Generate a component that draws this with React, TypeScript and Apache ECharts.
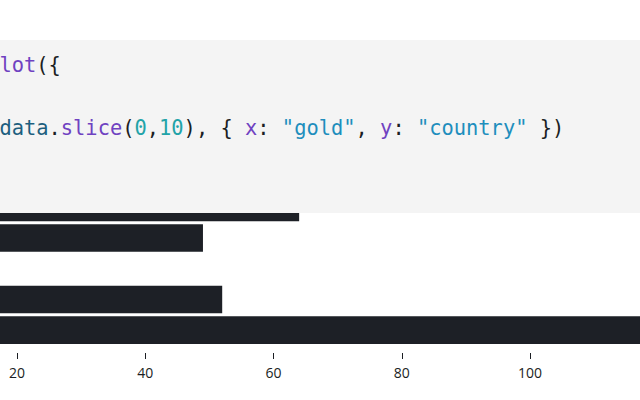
import React, { useEffect, useRef } from "react";
import * as echarts from "echarts";

// Visible bands of the bar chart (axis labels are outside the cropped view)
const countries = ["Row 6", "Row 7", "Row 8", "Row 9", "Row 10"];
const gold = [64, 49, 12, 52, 121];
const xTicks = [20, 40, 60, 80, 100];

// Code snippet shown above the chart: [text, colorKey]
const codeLine1: [string, string][] = [
  ["lot", "fn"],
  ["({", "pl"],
];
const codeLine2: [string, string][] = [
  ["data", "var"],
  [".", "pl"],
  ["slice", "fn"],
  ["(", "pl"],
  ["0", "num"],
  [",", "pl"],
  ["10", "num"],
  ["), { ", "pl"],
  ["x", "fn"],
  [": ", "pl"],
  ['"gold"', "str"],
  [", ", "pl"],
  ["y", "fn"],
  [": ", "pl"],
  ['"country"', "str"],
  [" })", "pl"],
];

const codeColors: Record<string, string> = {
  fn: "#6f42c1",
  pl: "#1b1e23",
  var: "#1d5f7f",
  num: "#22a3a8",
  str: "#1e8ebd",
};

const FONT_SIZE = 20.4;
const ADV = FONT_SIZE * 0.602;
const X0 = -0.6;

function lineElements(tokens: [string, string][], y: number) {
  const els: any[] = [];
  let col = 0;
  for (const [t, k] of tokens) {
    els.push({
      type: "text",
      x: X0 + col * ADV,
      y,
      z: 101,
      style: {
        text: t,
        fill: codeColors[k],
        font: `${FONT_SIZE}px "DejaVu Sans Mono", monospace`,
        verticalAlign: "middle",
        align: "left",
      },
    });
    col += t.length;
  }
  return els;
}

export default function App() {
  const ref = useRef<HTMLDivElement>(null);
  useEffect(() => {
    document.body.style.margin = "0";
    if (!ref.current) return;
    const chart = echarts.init(ref.current, null, { renderer: "svg" });
    // visible window of the x scale (zero lies left of the cropped view)
    const unit = 6.4125;
    const xMin = 111.25 / unit;
    const xMax = xMin + 640 / unit;
    chart.setOption({
      animation: false,
      backgroundColor: "#ffffff",
      grid: {
        left: 0,
        right: 0,
        top: 192.0,
        bottom: 54.5,
        containLabel: false,
        outerBoundsMode: "none",
      },
      xAxis: {
        type: "value",
        min: xMin,
        max: xMax,
        offset: 7.5,
        axisLine: { show: false },
        axisTick: {
          show: true,
          length: 6,
          customValues: xTicks,
          lineStyle: { color: "#1b1e23", width: 1 },
        },
        splitLine: { show: false },
        axisLabel: {
          customValues: xTicks,
          color: "#1b1e23",
          fontSize: 14,
          fontFamily: "Open Sans",
          margin: 12.5,
        },
      },
      yAxis: {
        type: "category",
        data: countries,
        inverse: true,
        axisLine: { show: false },
        axisTick: { show: false },
        axisLabel: { show: false },
      },
      series: [
        {
          type: "bar",
          data: gold,
          barCategoryGap: "10%",
          itemStyle: { color: "#1d2026" },
        },
      ],
      graphic: {
        elements: [
          {
            type: "rect",
            z: 100,
            shape: { x: 0, y: 40, width: 640, height: 173 },
            style: { fill: "#f4f4f4" },
          },
          ...lineElements(codeLine1, 64.5),
          ...lineElements(codeLine2, 128),
        ],
      },
    });
    return () => chart.dispose();
  }, []);
  return <div ref={ref} style={{ width: 640, height: 400 }} />;
}
